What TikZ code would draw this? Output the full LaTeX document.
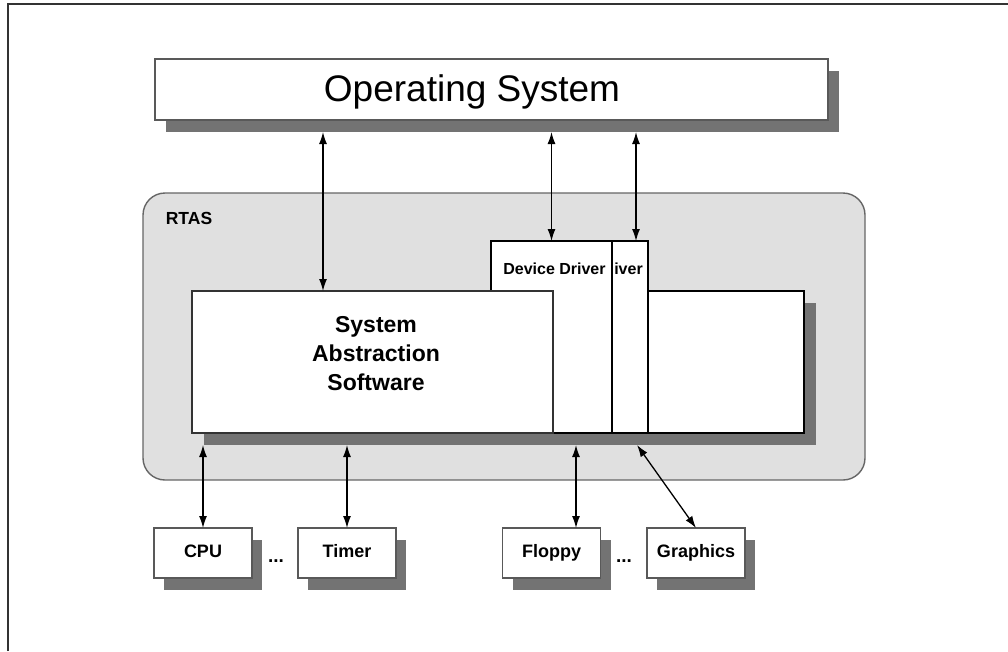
\documentclass[tikz,border=0pt]{standalone}
\usepackage{fontspec}
\setmainfont{Liberation Sans}
\usetikzlibrary{arrows.meta,shadows}
\begin{document}
\begin{tikzpicture}[x=1pt,y=-1pt,
  tip/.tip={Latex[length=12pt,width=8pt]},
  dbl/.style={{tip}-{tip}, line width=1.3pt},
  box/.style={rectangle, inner sep=0pt, outer sep=0pt, fill=white},
  ditherbox/.style={box, draw=black!65, line width=1.4pt},
  solidbox/.style={box, draw=black, line width=1.4pt},
  shd/.style={general shadow={fill=black!55, shadow xshift=#1pt, shadow yshift=-12pt}},
  small/.style={box, ditherbox, shd=10, minimum width=98pt, minimum height=50pt,
    text height=13pt, text depth=4pt,
    font=\fontsize{18}{20}\selectfont\bfseries},
  lbl/.style={inner sep=0pt, anchor=base, font=\fontsize{16}{18}\selectfont\bfseries},
  dots/.style={inner sep=0pt, anchor=base, font=\fontsize{19}{20}\selectfont\bfseries}
]
\useasboundingbox (0,0) rectangle (1008,651);
% frame (top and left edges)
\draw[black!80, line width=1.6pt] (8,651) -- (8,4) -- (1008,4);

% Operating system
\node[ditherbox, shd=11, minimum width=673pt, minimum height=61pt] (os) at (491.5,89.5) {};
\node[inner sep=0pt, anchor=base, font=\fontsize{37}{40}\selectfont] (ostext) at (472,101) {Operating System};
\coordinate (osS) at ([yshift=-12pt]os.south);

% RTAS container
\node[rectangle, rounded corners=22pt, fill=black!12, draw=black!60, line width=1.4pt,
  minimum width=722pt, minimum height=287pt, inner sep=0pt] (rtas) at (504,336.5) {};
\node[inner sep=0pt, font=\fontsize{17.5}{20}\selectfont\bfseries] (rtaslbl) at (189,218) {RTAS};

% back box with shadow
\node[solidbox, shd=12, minimum width=612pt, minimum height=142pt] (back) at (498,362) {};
\coordinate (backS) at ([yshift=-12pt]back.south);

% device drivers (stacked)
\node[solidbox, minimum width=121pt, minimum height=192pt] (dd2) at (587.5,337) {};
\node[lbl] (dd2t) at (628.5,274) {iver};
\node[solidbox, minimum width=121pt, minimum height=192pt] (dd1) at (551.5,337) {};
\node[lbl] (dd1t) at (554.5,274) {Device Driver};

% System Abstraction Software
\node[box, draw=black!80, line width=1.4pt, minimum width=361pt, minimum height=142pt] (sas) at (372.5,362) {};
\node[inner sep=0pt, align=center, font=\fontsize{23}{29}\selectfont\bfseries] (sastext) at (376,354) {System\\Abstraction\\Software};

% hardware boxes
\node[small] (cpu) at (203,553) {CPU};
\node[dots] (d1) at (276,562) {...};
\node[small] (timer) at (347,553) {Timer};
\node[small] (floppy) at (551.5,553) {Floppy};
\node[dots] (d2) at (624,562) {...};
\node[small] (graphics) at (696,553) {Graphics};

% connectors
\coordinate (a1) at ([xshift=-49.5pt]sas.north);
\draw[dbl] (a1 |- osS) -- (a1);
\draw[dbl] (dd1.north |- osS) -- (dd1.north);
\coordinate (a3) at ([xshift=48.5pt]dd2.north);
\draw[dbl] (a3 |- osS) -- (a3);
\draw[dbl] (cpu.north |- backS) -- (cpu.north);
\draw[dbl] (timer.north |- backS) -- (timer.north);
\coordinate (a6) at ([xshift=24.5pt]floppy.north);
\draw[dbl] (a6 |- backS) -- (a6);
\coordinate (a7) at ([xshift=139pt]backS);
\draw[dbl] (a7) -- (graphics.north);
\end{tikzpicture}
\end{document}
